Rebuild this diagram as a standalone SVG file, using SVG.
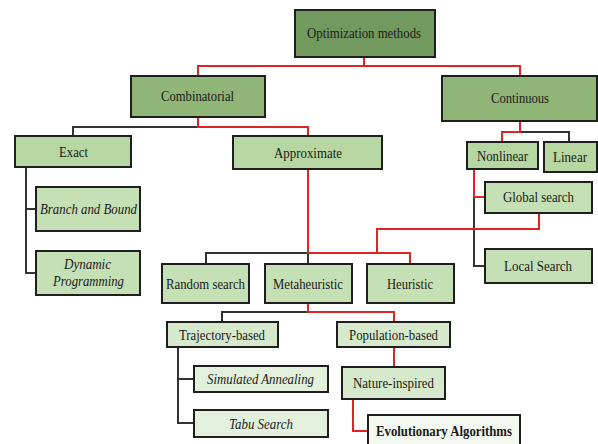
<svg xmlns="http://www.w3.org/2000/svg" width="598" height="444" viewBox="0 0 598 444">
<style>
rect{stroke:#1e1e1e;stroke-width:2}
text{font-size:15px;fill:#1a1a1a;text-anchor:middle;dominant-baseline:central}
.i{font-style:italic}
.b{font-weight:bold}
.l1{fill:#739a5e}
.l2{fill:#8fb677}
.l3{fill:#b6d7a1}
.l4{fill:#c5e0b4}
.l5{fill:#d6e9cc}
.l6{fill:#e3f0dc}
.l7{fill:#f3f9f1}
.k{fill:none;stroke:#333;stroke-width:2}
.r{fill:none;stroke:#e02424;stroke-width:2}
</style>
<rect width="598" height="444" fill="#fff" style="stroke:none"/>
<g id="connectors">
<path class="k" d="M198 127H73V136"/>
<path class="k" d="M26 167V273H36M26 209H36"/>
<path class="k" d="M308 253H206V264M308 253V264"/>
<path class="k" d="M520 132H569V142"/>
<path class="k" d="M474 197V266H485"/>
<path class="k" d="M308 312H222V322"/>
<path class="k" d="M178 347V423H194M178 379H194"/>
<path class="r" d="M364 57V66M198 76V66H520V76"/>
<path class="r" d="M198 117V127H308V136"/>
<path class="r" d="M308 169V253H410V264"/>
<path class="r" d="M377 253V229H539V213"/>
<path class="r" d="M520 121V132H502V142"/>
<path class="r" d="M474 169V197H485"/>
<path class="r" d="M308 303V312H394V322M394 347V367"/>
<path class="r" d="M353 399V431H368"/>
</g>
<g font-family="Liberation Serif, serif" lengthAdjust="spacingAndGlyphs">
<g id="optimization"><rect class="l1" x="295" y="10" width="140" height="47"/><text x="364" y="33" textLength="114" lengthAdjust="spacingAndGlyphs">Optimization methods</text></g>
<g id="combinatorial"><rect class="l2" x="131" y="76" width="134" height="41"/><text x="197.5" y="96" textLength="73" lengthAdjust="spacingAndGlyphs">Combinatorial</text></g>
<g id="continuous"><rect class="l2" x="442" y="76" width="155" height="45"/><text x="520" y="98" textLength="58" lengthAdjust="spacingAndGlyphs">Continuous</text></g>
<g id="exact"><rect class="l3" x="15" y="136" width="116" height="31"/><text x="73.5" y="152" textLength="29" lengthAdjust="spacingAndGlyphs">Exact</text></g>
<g id="approximate"><rect class="l3" x="233" y="136" width="149" height="33"/><text x="308" y="153" textLength="68" lengthAdjust="spacingAndGlyphs">Approximate</text></g>
<g id="branch"><rect class="l4" x="36" y="187" width="104" height="44"/><text class="i" x="88.5" y="209" textLength="97" lengthAdjust="spacingAndGlyphs">Branch and Bound</text></g>
<g id="dynamic"><rect class="l4" x="36" y="251" width="104" height="44"/><text class="i" x="87.5" y="264" textLength="47" lengthAdjust="spacingAndGlyphs">Dynamic</text><text class="i" x="88.5" y="281" textLength="71" lengthAdjust="spacingAndGlyphs">Programming</text></g>
<g id="nonlinear"><rect class="l3" x="467" y="142" width="71" height="27"/><text x="502.5" y="156" textLength="51" lengthAdjust="spacingAndGlyphs">Nonlinear</text></g>
<g id="linear"><rect class="l3" x="544" y="142" width="53" height="30"/><text x="570" y="157" textLength="34" lengthAdjust="spacingAndGlyphs">Linear</text></g>
<g id="global"><rect class="l4" x="485" y="182" width="107" height="31"/><text x="538.5" y="197" textLength="71" lengthAdjust="spacingAndGlyphs">Global search</text></g>
<g id="local"><rect class="l4" x="485" y="249" width="107" height="34"/><text x="538" y="265.5" textLength="68" lengthAdjust="spacingAndGlyphs">Local Search</text></g>
<g id="random"><rect class="l4" x="162" y="264" width="87" height="39"/><text x="205.5" y="283.5" textLength="79" lengthAdjust="spacingAndGlyphs">Random search</text></g>
<g id="metaheuristic"><rect class="l4" x="265" y="264" width="87" height="39"/><text x="308" y="283.5" textLength="70" lengthAdjust="spacingAndGlyphs">Metaheuristic</text></g>
<g id="heuristic"><rect class="l4" x="367" y="264" width="87" height="39"/><text x="410" y="283.5" textLength="46" lengthAdjust="spacingAndGlyphs">Heuristic</text></g>
<g id="trajectory"><rect class="l5" x="167" y="322" width="111" height="25"/><text x="222" y="334.5" textLength="86" lengthAdjust="spacingAndGlyphs">Trajectory-based</text></g>
<g id="population"><rect class="l5" x="337" y="322" width="113" height="25"/><text x="393.5" y="334.5" textLength="89" lengthAdjust="spacingAndGlyphs">Population-based</text></g>
<g id="simulated"><rect class="l6" x="194" y="366" width="134" height="26"/><text class="i" x="260.5" y="379" textLength="107" lengthAdjust="spacingAndGlyphs">Simulated Annealing</text></g>
<g id="tabu"><rect class="l6" x="194" y="410" width="134" height="27"/><text class="i" x="261" y="423.5" textLength="64" lengthAdjust="spacingAndGlyphs">Tabu Search</text></g>
<g id="nature"><rect class="l5" x="342" y="367" width="103" height="32"/><text x="393.5" y="383" textLength="81" lengthAdjust="spacingAndGlyphs">Nature-inspired</text></g>
<g id="evolutionary"><rect class="l7" x="368" y="415" width="152" height="33"/><text class="b" x="444" y="430.5" textLength="136" lengthAdjust="spacingAndGlyphs">Evolutionary Algorithms</text></g>
</g>
</svg>
